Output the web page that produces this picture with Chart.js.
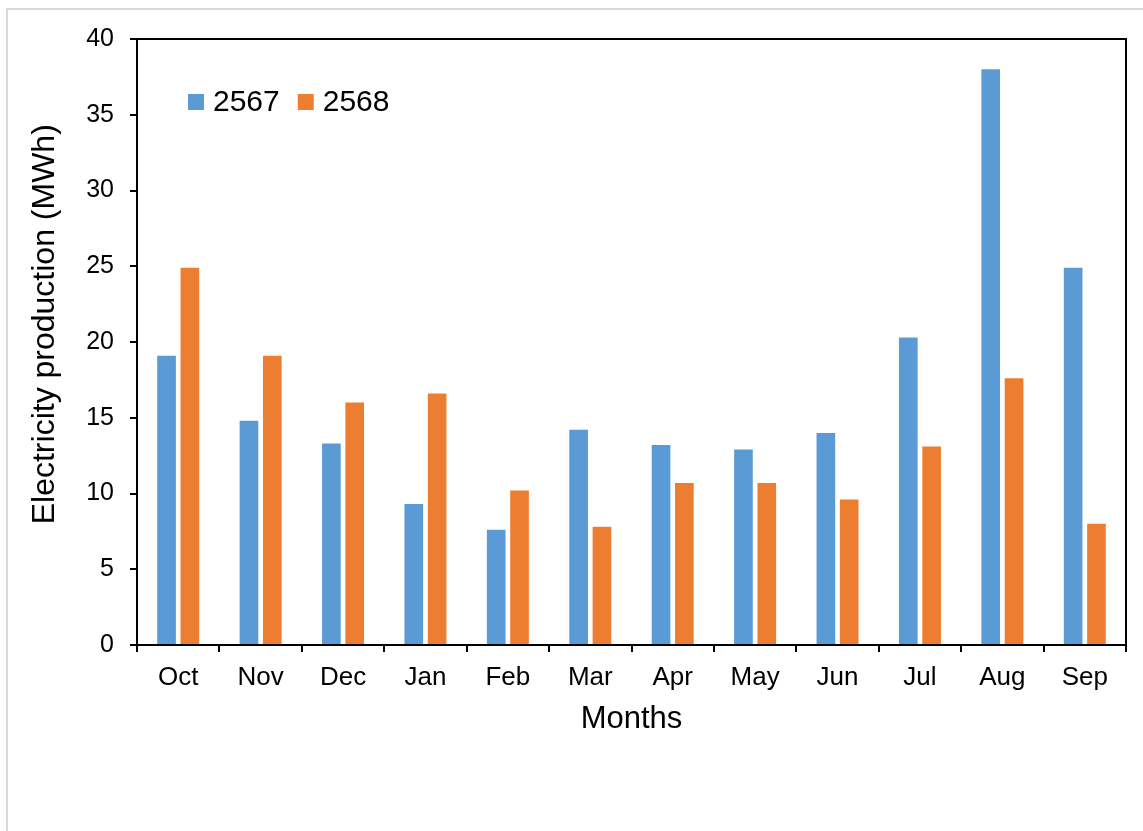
<!DOCTYPE html>
<html>
<head>
<meta charset="utf-8">
<script src="https://cdn.jsdelivr.net/npm/chart.js@4/dist/chart.umd.min.js"></script>
<style>
  html, body { margin: 0; padding: 0; background: #fff; overflow: hidden; }
  #frame {
    position: absolute; left: 6px; top: 8px; width: 2000px; height: 2000px;
    border-top: 2px solid #d9d9d9; border-left: 2px solid #d9d9d9;
  }
  #chart { position: absolute; left: 0; top: 0; }
</style>
</head>
<body>
<div id="frame"></div>
<canvas id="chart" width="1143" height="831"></canvas>
<script>
const months = ["Oct", "Nov", "Dec", "Jan", "Feb", "Mar", "Apr", "May", "Jun", "Jul", "Aug", "Sep"];
const seriesNames = ["2567", "2568"];
const values2567 = [19.1, 14.8, 13.3, 9.3, 7.6, 14.2, 13.2, 12.9, 14.0, 20.3, 38.0, 24.9];
const values2568 = [24.9, 19.1, 16.0, 16.6, 10.2, 7.8, 10.7, 10.7, 9.6, 13.1, 17.6, 8.0];
const yTicks = [0, 5, 10, 15, 20, 25, 30, 35, 40];

const FONT = "'Liberation Sans', Arial, sans-serif";

// box round the plot area (top and right sides too)
const plotBox = {
  id: "plotBox",
  afterDraw(chart) {
    const { ctx, chartArea: a } = chart;
    ctx.save();
    ctx.strokeStyle = "#000";
    ctx.lineWidth = 2;
    ctx.strokeRect(a.left, a.top, a.right - a.left, a.bottom - a.top);
    ctx.restore();
  }
};

// legend inside the plot, top left
const insideLegend = {
  id: "insideLegend",
  afterDraw(chart) {
    const { ctx, chartArea: a } = chart;
    let x = a.left + 51;
    const y = a.top + 55;
    ctx.save();
    ctx.font = "30px " + FONT;
    ctx.textBaseline = "middle";
    chart.data.datasets.forEach(ds => {
      ctx.fillStyle = ds.backgroundColor;
      ctx.fillRect(x, y, 16, 16);
      ctx.fillStyle = "#000";
      ctx.fillText(ds.label, x + 25, y + 9);
      x += 25 + ctx.measureText(ds.label).width + 18;
    });
    ctx.restore();
  }
};

const ctx = document.getElementById("chart").getContext("2d");
const chart = new Chart(ctx, {
  type: "bar",
  data: {
    labels: months,
    datasets: [
      { label: seriesNames[0], data: values2567, backgroundColor: "#5B9BD5" },
      { label: seriesNames[1], data: values2568, backgroundColor: "#ED7D31" }
    ]
  },
  options: {
    responsive: false,
    animation: false,
    categoryPercentage: 0.566,
    barPercentage: 0.8,
    layout: { padding: { top: 39, right: 17, left: 0, bottom: 0 } },
    plugins: {
      legend: { display: false },
      tooltip: { enabled: false }
    },
    scales: {
      x: {
        afterFit: s => { s.height = 186; },
        grid: { drawOnChartArea: false, tickLength: 7, color: "#000", lineWidth: 2, offset: true },
        border: { color: "#000", width: 2 },
        ticks: { color: "#000", font: { size: 26, family: FONT }, padding: 10 },
        title: { display: true, text: "Months", color: "#000", font: { size: 31, family: FONT }, padding: { bottom: 93 } }
      },
      y: {
        min: 0,
        max: 40,
        afterFit: s => { s.width = 137; },
        afterBuildTicks: s => { s.ticks = yTicks.map(v => ({ value: v })); },
        grid: { drawOnChartArea: false, tickLength: 7, color: "#000", lineWidth: 2 },
        border: { color: "#000", width: 2 },
        ticks: { color: "#000", font: { size: 25, family: FONT }, padding: 16 },
        // leading spaces push the title a little up, as in the original
        title: { display: true, text: "    Electricity production (MWh)", color: "#000", font: { size: 32, family: FONT }, padding: { top: 26 } }
      }
    }
  },
  plugins: [plotBox, insideLegend]
});
</script>
</body>
</html>
